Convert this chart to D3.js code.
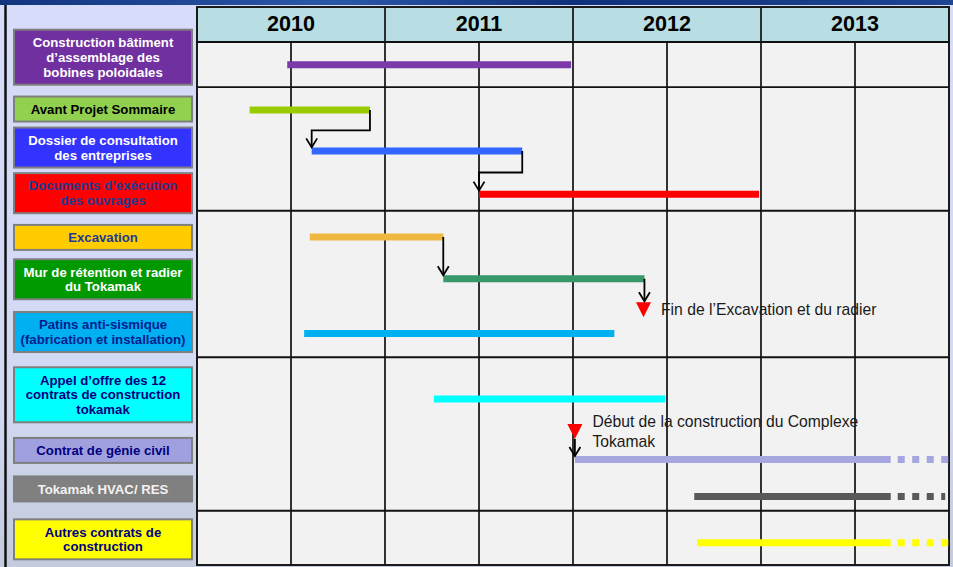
<!DOCTYPE html>
<html>
<head>
<meta charset="utf-8">
<script src="https://cdn.jsdelivr.net/npm/d3@7"></script>
<style>
  body { margin: 0; padding: 0; background: #d5dbf8; }
  svg { display: block; font-family: "Liberation Sans", Arial, sans-serif; }
</style>
</head>
<body>
<div id="chart"></div>
<script>
// ---- data ----
var years = [2010, 2011, 2012, 2013];

var taskLabels = [
    ["Construction bâtiment", "d’assemblage des", "bobines poloidales"],
    ["Avant Projet Sommaire"],
    ["Dossier de consultation", "des entreprises"],
    ["Documents d’exécution", "des ouvrages"],
    ["Excavation"],
    ["Mur de rétention et radier", "du Tokamak"],
    ["Patins anti-sismique", "(fabrication et installation)"],
    ["Appel d’offre des 12", "contrats de construction", "tokamak"],
    ["Contrat de génie civil"],
    ["Tokamak HVAC/ RES"],
    ["Autres contrats de", "construction"]
];
// start / end of the solid bar, in years
var taskStart = [2010.48, 2010.28, 2010.61, 2011.50, 2010.60, 2011.31, 2010.57, 2011.26, 2012.01, 2012.645, 2012.66];
var taskEnd   = [2011.99, 2010.92, 2011.73, 2012.99, 2011.31, 2012.38, 2012.22, 2012.49, 2013.69, 2013.69, 2013.69];
// dotted continuation (null = none)
var taskExtend = [null, null, null, null, null, null, null, null, 2014.0, 2013.98, 2014.0];
// vertical position of bars and label boxes, in row units
var barLane   = [0.48, 1.43, 2.29, 3.20, 4.10, 4.98, 6.13, 7.51, 8.78, 9.56, 10.53];
var labelLane = [0.32, 1.41, 2.22, 3.18, 4.11, 4.99, 6.10, 7.42, 8.59, 9.40, 10.46];
var groupBreaks = [0.95, 3.55, 6.63, 9.86];

var boxColors  = ["#7030a0", "#92d050", "#3333ff", "#ff0000", "#ffcc00", "#009900", "#00b0f0", "#00ffff", "#a0a0de", "#808080", "#ffff00"];
var textColors = ["#ffffff", "#000000", "#ffffff", "#1f3a8f", "#1f3a93", "#ffffff", "#00208f", "#000080", "#000080", "#f2f2f2", "#000080"];
var barColors  = ["#7b3aa8", "#99cc00", "#3366ff", "#ff0000", "#f0b841", "#38986a", "#00b0f0", "#00ffff", "#a6a6e0", "#595959", "#ffff00"];

// finish-to-start dependencies (task index -> task index)
var links = [[1, 2], [2, 3], [4, 5]];

// milestones
var milestoneText = [["Fin de l’Excavation et du radier"], ["Début de la construction du Complexe", "Tokamak"]];
var milestoneDate = [2012.375, 2012.01];
var milestoneLane = [5.63, 8.19];

// ---- layout ----
var W = 953, H = 567;
var gridLeft = 197, gridRight = 949, headTop = 7, headBottom = 42, gridBottom = 565;

var svg = d3.select("#chart")
    .append("svg")
    .attr("width", W)
    .attr("height", H);

var x = d3.scaleLinear().domain([2010, 2014]).range([gridLeft, gridRight]);
var y = d3.scaleLinear().domain([0, 11]).range([headBottom, gridBottom]);

// background
var defs = svg.append("defs");
var bg = defs.append("linearGradient").attr("id", "bg").attr("x1", 0).attr("x2", 0).attr("y1", 0).attr("y2", 1);
bg.append("stop").attr("offset", "0%").attr("stop-color", "#d6dcf9");
bg.append("stop").attr("offset", "70%").attr("stop-color", "#d2d9f3");
bg.append("stop").attr("offset", "100%").attr("stop-color", "#c3cbdc");
var band = defs.append("linearGradient").attr("id", "band");
band.append("stop").attr("offset", "0%").attr("stop-color", "#12347f");
band.append("stop").attr("offset", "35%").attr("stop-color", "#2a58a8");
band.append("stop").attr("offset", "60%").attr("stop-color", "#10307a");
band.append("stop").attr("offset", "100%").attr("stop-color", "#1d4592");

svg.append("rect").attr("width", W).attr("height", H).attr("fill", "url(#bg)");
svg.append("rect").attr("width", W).attr("height", 5).attr("fill", "url(#band)");
svg.append("line")
    .attr("x1", 5.5).attr("x2", 5.5).attr("y1", 5).attr("y2", H)
    .attr("stroke", "#111").attr("stroke-width", 2.5);

// grid body + header
svg.append("rect")
    .attr("x", gridLeft).attr("y", headBottom)
    .attr("width", gridRight - gridLeft).attr("height", gridBottom - headBottom)
    .attr("fill", "#f2f2f2");
svg.append("rect")
    .attr("x", gridLeft).attr("y", headTop)
    .attr("width", gridRight - gridLeft).attr("height", headBottom - headTop)
    .attr("fill", "#b8dde2");

// half-year lines in the body
var halfYears = d3.range(2010.5, 2014, 0.5);
svg.selectAll("line.vgrid").data(halfYears).enter().append("line")
    .attr("class", "vgrid")
    .attr("x1", function(d) { return x(d) }).attr("x2", function(d) { return x(d) })
    .attr("y1", function(d) { return d % 1 === 0 ? headTop : headBottom })
    .attr("y2", gridBottom)
    .attr("stroke", "#111").attr("stroke-width", 1.7);

// group separators
svg.selectAll("line.hgrid").data(groupBreaks).enter().append("line")
    .attr("class", "hgrid")
    .attr("x1", gridLeft).attr("x2", gridRight)
    .attr("y1", function(d) { return y(d) }).attr("y2", function(d) { return y(d) })
    .attr("stroke", "#111").attr("stroke-width", 1.9);

svg.append("line")
    .attr("x1", gridLeft).attr("x2", gridRight).attr("y1", headBottom).attr("y2", headBottom)
    .attr("stroke", "#111").attr("stroke-width", 1.9);
svg.append("rect")
    .attr("x", gridLeft).attr("y", headTop)
    .attr("width", gridRight - gridLeft).attr("height", gridBottom - headTop)
    .attr("fill", "none").attr("stroke", "#111").attr("stroke-width", 1.9);

// year labels
svg.selectAll("text.year").data(years).enter().append("text")
    .attr("class", "year")
    .attr("x", function(d) { return x(d + 0.5) })
    .attr("y", 31)
    .attr("text-anchor", "middle")
    .style("font-size", "21.5px").style("font-weight", "bold")
    .text(function(d) { return d });

// label boxes
var lineH = 14.8;
var boxes = svg.selectAll("g.box").data(taskLabels).enter().append("g").attr("class", "box");
boxes.append("rect")
    .attr("x", 14)
    .attr("y", function(d, i) { return y(labelLane[i]) - (d.length * 15 + 10) / 2 })
    .attr("width", 178)
    .attr("height", function(d) { return d.length * 15 + 10 })
    .attr("fill", function(d, i) { return boxColors[i] })
    .attr("stroke", "#7f7f7f").attr("stroke-width", 2);
boxes.append("text")
    .attr("text-anchor", "middle")
    .style("font-size", "13.2px").style("font-weight", "bold")
    .attr("fill", function(d, i) { return textColors[i] })
    .each(function(d, i) {
        var t = d3.select(this);
        var top = y(labelLane[i]) - (d.length - 1) * lineH / 2 + 4.7;
        d.forEach(function(line, k) {
            t.append("tspan").attr("x", 103).attr("y", top + k * lineH).text(line);
        });
    });

// bars
svg.selectAll("line.bar").data(taskStart).enter().append("line")
    .attr("class", "bar")
    .attr("x1", function(d) { return x(d) })
    .attr("x2", function(d, i) { return x(taskEnd[i]) })
    .attr("y1", function(d, i) { return y(barLane[i]) })
    .attr("y2", function(d, i) { return y(barLane[i]) })
    .attr("stroke", function(d, i) { return barColors[i] })
    .attr("stroke-width", 7);

// dotted continuations
var ext = d3.range(taskExtend.length).filter(function(i) { return taskExtend[i] !== null });
svg.selectAll("line.ext").data(ext).enter().append("line")
    .attr("class", "ext")
    .attr("x1", function(i) { return x(taskEnd[i]) })
    .attr("x2", function(i) { return x(taskExtend[i]) })
    .attr("y1", function(i) { return y(barLane[i]) })
    .attr("y2", function(i) { return y(barLane[i]) })
    .attr("stroke", function(i) { return barColors[i] })
    .attr("stroke-width", 7)
    .attr("stroke-dasharray", "7 7.5")
    .attr("stroke-dashoffset", 7.5);

// arrow helper: polyline ending with an open arrow head pointing down
function arrow(points) {
    var tip = points[points.length - 1];
    svg.append("path")
        .attr("d", d3.line()(points))
        .attr("fill", "none").attr("stroke", "#000").attr("stroke-width", 1.8);
    svg.append("path")
        .attr("d", d3.line()([[tip[0] - 5.5, tip[1] - 9], tip, [tip[0] + 5.5, tip[1] - 9]]))
        .attr("fill", "none").attr("stroke", "#000").attr("stroke-width", 1.8);
}

links.forEach(function(l) {
    var a = l[0], b = l[1];
    var x0 = x(taskEnd[a]), y0 = y(barLane[a]);
    var x1 = x(taskStart[b]), y1 = y(barLane[b]) - 3.5;
    var ym = (y0 + y1 + 3.5) / 2;
    arrow([[x0, y0], [x0, ym], [x1, ym], [x1, y1]]);
});

// milestones
var tri = 7.5;
milestoneDate.forEach(function(d, i) {
    var cx = x(d), cy = y(milestoneLane[i]);
    svg.append("path")
        .attr("d", d3.line()([[cx - tri, cy - tri], [cx + tri, cy - tri], [cx, cy + tri]]) + "Z")
        .attr("fill", "#ff0000");
    var t = svg.append("text")
        .style("font-size", "15.7px")
        .attr("fill", "#1a1a1a");
    var lines = milestoneText[i];
    var base = lines.length > 1 ? cy - 4 : cy + 5.5;
    lines.forEach(function(line, k) {
        t.append("tspan").attr("x", cx + 17.5).attr("y", base + k * 19.5).text(line);
    });
});

// green bar end -> end of excavation milestone
arrow([[x(taskEnd[5]), y(barLane[5])], [x(taskEnd[5]), y(milestoneLane[0]) - tri - 1]]);
// start of construction milestone -> civil works contract
arrow([[x(milestoneDate[1]), y(milestoneLane[1]) + tri], [x(milestoneDate[1]), y(barLane[8]) - 3.5]]);
</script>
</body>
</html>
